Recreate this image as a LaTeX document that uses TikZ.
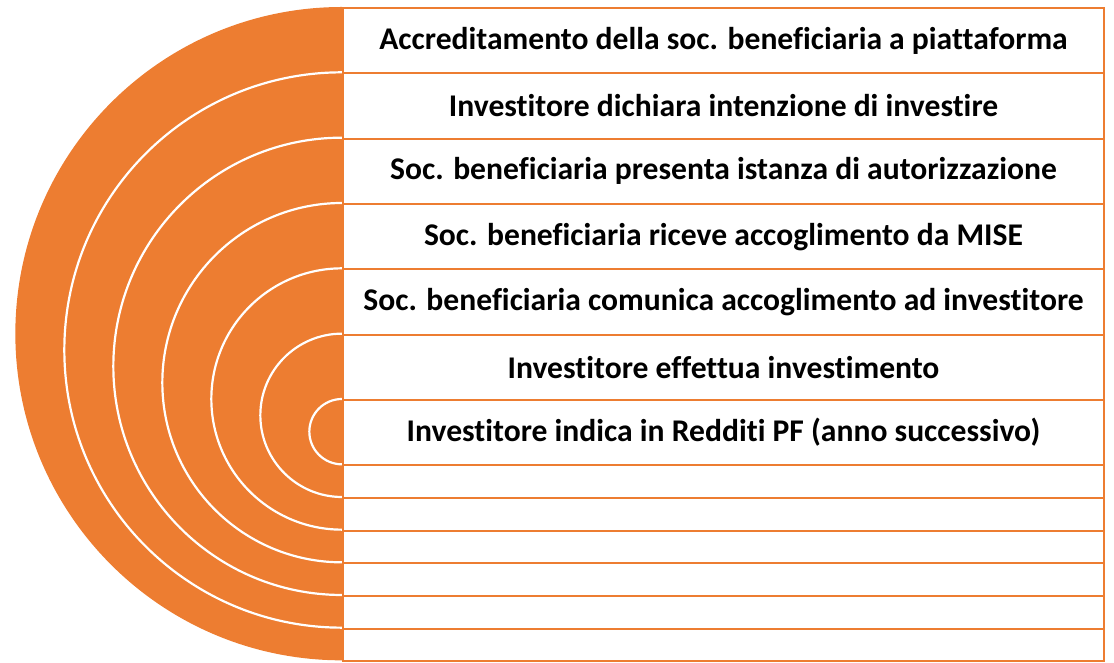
\documentclass[tikz,border=0pt]{standalone}
\usepackage{fontspec}
\setmainfont{Carlito}[Ligatures={NoCommon}]
\definecolor{acc}{HTML}{ED7D31}
\begin{document}
\begin{tikzpicture}[x=1pt,y=1pt,
  rowbox/.style={draw=acc, line width=2pt, fill=white, minimum width=761pt, inner sep=0pt,
    font=\fontsize{31.6}{36}\selectfont\bfseries, text=black, anchor=north},
  bigrow/.style={rowbox, minimum height=65.333pt},
  smallrow/.style={rowbox, minimum height=32.667pt},
  ringfill/.style={fill=acc},
  ringline/.style={draw=white, line width=2.2pt}]
\useasboundingbox (0,0) rectangle (1114,663);
\foreach \k in {0,...,6}{
  \pgfmathsetmacro\tp{656-65.333*\k}
  \pgfmathsetmacro\rr{326.667-49*\k}
  \fill[ringfill] (342,\tp) arc[start angle=90,end angle=270,radius=\rr] -- cycle;
  \ifnum\k>0
    \draw[ringline] (342,\tp) arc[start angle=90,end angle=270,radius=\rr];
  \fi
}
\node[bigrow] (r1) at (723.5,656) {Accreditamento della soc. beneficiaria a piattaforma};
\node[bigrow] (r2) at (723.5,590.667) {Investitore dichiara intenzione di investire};
\node[bigrow] (r3) at (723.5,525.333) {Soc. beneficiaria presenta istanza di autorizzazione};
\node[bigrow] (r4) at (723.5,460) {Soc. beneficiaria riceve accoglimento da MISE};
\node[bigrow] (r5) at (723.5,394.667) {Soc. beneficiaria comunica accoglimento ad investitore};
\node[bigrow] (r6) at (723.5,329.333) {Investitore effettua investimento};
\node[bigrow] (r7) at (723.5,264) {Investitore indica in Redditi PF (anno successivo)};
\node[smallrow] (r8) at (723.5,198.667) {};
\node[smallrow] (r9) at (723.5,166) {};
\node[smallrow] (r10) at (723.5,133.333) {};
\node[smallrow] (r11) at (723.5,100.667) {};
\node[smallrow] (r12) at (723.5,68) {};
\node[smallrow] (r13) at (723.5,35.333) {};
\end{tikzpicture}
\end{document}
